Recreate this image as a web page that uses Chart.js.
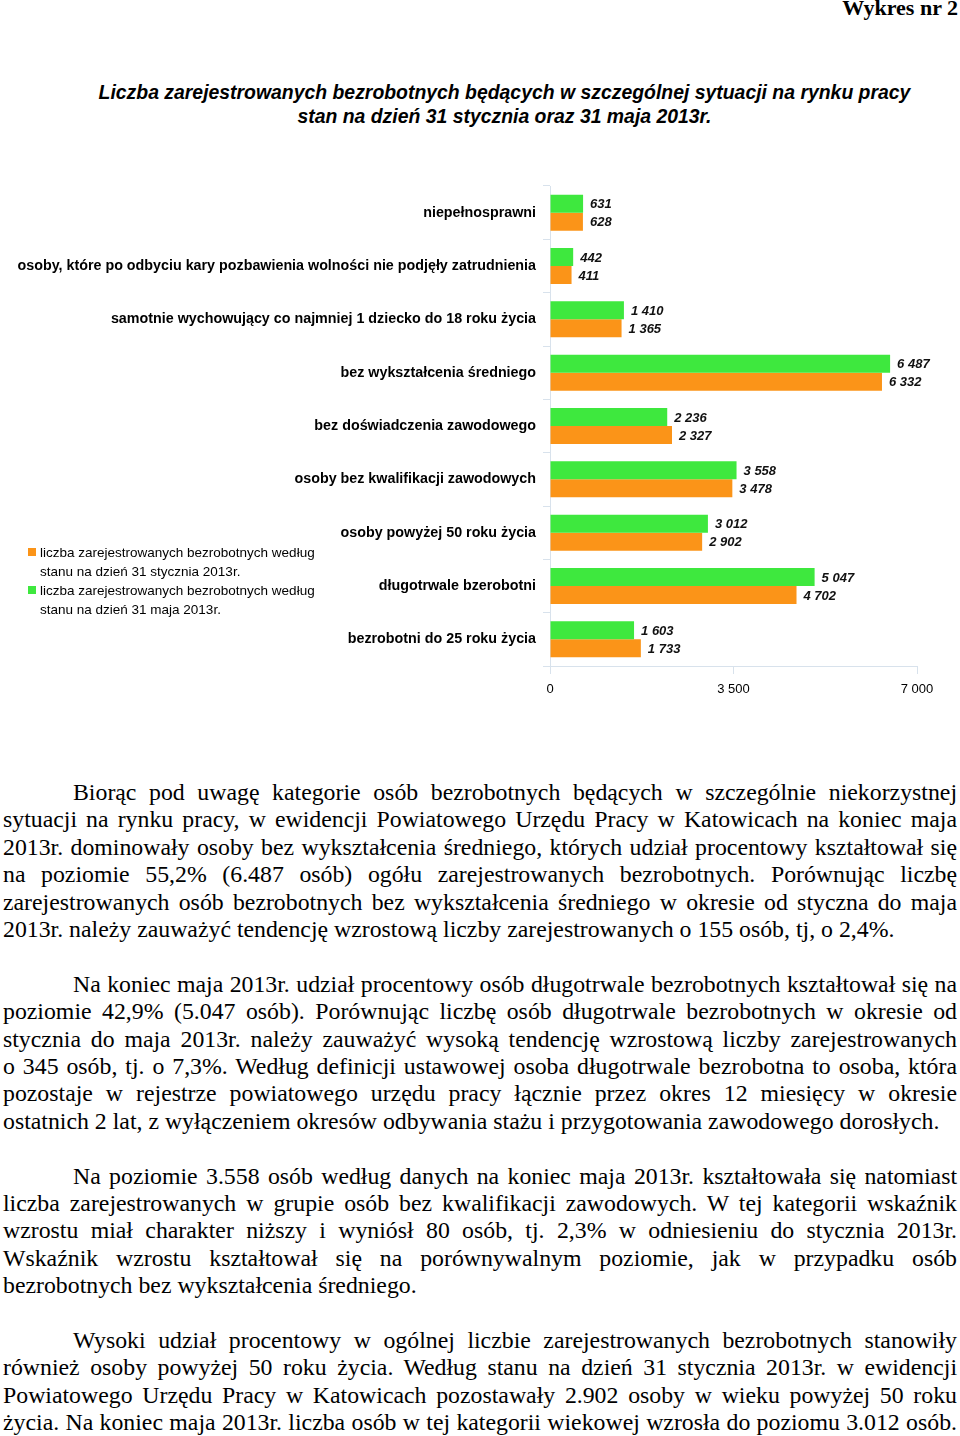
<!DOCTYPE html>
<html lang="pl">
<head>
<meta charset="utf-8">
<title>Wykres nr 2</title>
<script src="https://cdn.jsdelivr.net/npm/chart.js@4.4.1/dist/chart.umd.min.js"></script>
<style>
  body { margin: 0; width: 960px; height: 1436px; position: relative; overflow: hidden; background: #fff; font-family: "Liberation Sans", Arial, sans-serif; }
  #nr { position: absolute; right: 2px; top: -5px; font: bold 22px "Liberation Serif", serif; }
  #title { position: absolute; left: 24px; top: 80px; width: 960px; text-align: center; font: italic bold 20px "Liberation Sans", Arial, sans-serif; line-height: 24px; }
  #title div { display: inline-block; transform: scaleX(0.97); white-space: nowrap; }
  #wrap { position: absolute; left: 0; top: 180px; width: 960px; height: 520px; }
  #legend { position: absolute; left: 28px; top: 543px; width: 320px; font: 13.5px "Liberation Sans", Arial, sans-serif; line-height: 19px; }
  #legend .item { position: relative; padding-left: 12px; }
  #legend .sw { position: absolute; left: 0; top: 5px; width: 8px; height: 8px; }
  #text { position: absolute; left: 3px; top: 779px; width: 954px; font: 23.8px "Liberation Serif", "Times New Roman", serif; line-height: 27.4px; }
  #text .l { text-align: justify; text-align-last: justify; }
  #text .e { text-align: left; text-align-last: left; }
  #text .i { padding-left: 70px; }
  #text .p { margin-bottom: 27.4px; }
</style>
</head>
<body>
<div id="nr">Wykres nr 2</div>
<div id="title">
  <div>Liczba zarejestrowanych bezrobotnych będących w szczególnej sytuacji na rynku pracy</div><br>
  <div>stan na dzień 31 stycznia oraz 31 maja 2013r.</div>
</div>
<div id="wrap"><canvas id="chart"></canvas></div>
<div id="legend"></div>
<div id="text"></div>

<script>
const categories = [
  'niepełnosprawni',
  'osoby, które po odbyciu kary pozbawienia wolności nie podjęły zatrudnienia',
  'samotnie wychowujący co najmniej 1 dziecko do 18 roku życia',
  'bez wykształcenia średniego',
  'bez doświadczenia zawodowego',
  'osoby bez kwalifikacji zawodowych',
  'osoby powyżej 50 roku życia',
  'długotrwale bzerobotni',
  'bezrobotni do 25 roku życia'
];
const mayValues = [631, 442, 1410, 6487, 2236, 3558, 3012, 5047, 1603];
const janValues = [628, 411, 1365, 6332, 2327, 3478, 2902, 4702, 1733];
const xTicks = [0, 3500, 7000];

const janLabel = 'liczba zarejestrowanych bezrobotnych według stanu na dzień 31 stycznia 2013r.';
const mayLabel = 'liczba zarejestrowanych bezrobotnych według stanu na dzień 31 maja 2013r.';
const orange = '#fb9418';
const green = '#3ee83e';

const paragraphs = [
  ['Biorąc pod uwagę kategorie osób bezrobotnych będących w szczególnie niekorzystnej',
   'sytuacji na rynku pracy, w ewidencji Powiatowego Urzędu Pracy w Katowicach na koniec maja',
   '2013r. dominowały osoby bez wykształcenia średniego, których udział procentowy kształtował się',
   'na poziomie 55,2% (6.487 osób) ogółu zarejestrowanych bezrobotnych. Porównując liczbę',
   'zarejestrowanych osób bezrobotnych bez wykształcenia średniego w okresie od styczna do maja',
   '2013r. należy zauważyć tendencję wzrostową liczby zarejestrowanych o 155 osób, tj, o 2,4%.'],
  ['Na koniec maja 2013r. udział procentowy osób długotrwale bezrobotnych kształtował się na',
   'poziomie 42,9% (5.047 osób). Porównując liczbę osób długotrwale bezrobotnych w okresie od',
   'stycznia do maja 2013r. należy zauważyć wysoką tendencję wzrostową liczby zarejestrowanych',
   'o 345 osób, tj. o 7,3%.  Według definicji ustawowej osoba długotrwale bezrobotna to osoba, która',
   'pozostaje w rejestrze powiatowego urzędu pracy łącznie przez okres 12 miesięcy w okresie',
   'ostatnich 2 lat, z wyłączeniem okresów odbywania stażu i przygotowania zawodowego dorosłych.'],
  ['Na poziomie 3.558 osób według danych na koniec maja 2013r. kształtowała się natomiast',
   'liczba zarejestrowanych w grupie osób bez kwalifikacji zawodowych. W tej kategorii wskaźnik',
   'wzrostu miał charakter niższy i wyniósł 80 osób, tj. 2,3% w odniesieniu do stycznia 2013r.',
   'Wskaźnik wzrostu kształtował się na porównywalnym poziomie, jak w przypadku osób',
   'bezrobotnych bez wykształcenia średniego.'],
  ['Wysoki udział procentowy w ogólnej liczbie zarejestrowanych bezrobotnych stanowiły',
   'również osoby powyżej 50 roku życia. Według stanu na dzień 31 stycznia 2013r. w ewidencji',
   'Powiatowego Urzędu Pracy w Katowicach pozostawały 2.902 osoby w wieku powyżej 50 roku',
   'życia. Na koniec maja 2013r. liczba osób w tej kategorii wiekowej wzrosła do poziomu 3.012 osób.']
];

function fmt(v) {
  return String(v).replace(/\B(?=(\d{3})+(?!\d))/g, ' ');
}

// body text, one div per line so the wrapping matches
const textBox = document.getElementById('text');
paragraphs.forEach((lines, p) => {
  const block = document.createElement('div');
  block.className = 'p';
  lines.forEach((line, i) => {
    const d = document.createElement('div');
    const last = i === lines.length - 1 && p !== paragraphs.length - 1;
    d.className = 'l' + (last ? ' e' : '') + (i === 0 ? ' i' : '');
    d.textContent = line;
    block.appendChild(d);
  });
  textBox.appendChild(block);
});

// legend
const legend = document.getElementById('legend');
[[orange, janLabel], [green, mayLabel]].forEach(([c, t]) => {
  const item = document.createElement('div');
  item.className = 'item';
  item.innerHTML = `<span class="sw" style="background:${c}"></span>${t}`;
  legend.appendChild(item);
});

const valueLabels = {
  id: 'valueLabels',
  afterDatasetsDraw(chart) {
    const ctx = chart.ctx;
    ctx.save();
    ctx.font = 'italic bold 13px "Liberation Sans", Arial, sans-serif';
    ctx.fillStyle = '#111';
    ctx.textBaseline = 'middle';
    chart.data.datasets.forEach((ds, i) => {
      chart.getDatasetMeta(i).data.forEach((bar, j) => {
        ctx.fillText(fmt(ds.data[j]), bar.x + 7, bar.y + 1);
      });
    });
    ctx.restore();
  }
};

const axisColor = '#d8e2ec';

new Chart(document.getElementById('chart'), {
  type: 'bar',
  data: {
    labels: categories,
    datasets: [
      { label: mayLabel, data: mayValues, backgroundColor: green },
      { label: janLabel, data: janValues, backgroundColor: orange }
    ]
  },
  options: {
    indexAxis: 'y',
    responsive: true,
    maintainAspectRatio: false,
    animation: false,
    categoryPercentage: 0.675,
    barPercentage: 1,
    layout: { padding: { top: 6, right: 43, left: 0, bottom: 0 } },
    plugins: { legend: { display: false }, tooltip: { enabled: false } },
    scales: {
      x: {
        min: 0,
        max: 7000,
        afterBuildTicks: (scale) => { scale.ticks = xTicks.map(v => ({ value: v })); },
        afterFit: (scale) => { scale.height = 34; },
        grid: { drawOnChartArea: false, drawTicks: true, tickLength: 8, color: axisColor },
        border: { display: true, color: axisColor },
        ticks: {
          padding: 8,
          color: '#000',
          font: { family: '"Liberation Sans", Arial, sans-serif', size: 13 },
          callback: (v) => fmt(v)
        }
      },
      y: {
        afterFit: (scale) => {
          scale.width = 550;
          scale.paddingTop = 0;
          scale.paddingBottom = 0;
        },
        grid: { drawOnChartArea: false, drawTicks: true, tickLength: 7, color: axisColor, offset: true },
        border: { display: true, color: axisColor },
        ticks: {
          padding: 7,
          color: '#000',
          font: { family: '"Liberation Sans", Arial, sans-serif', size: 14.3, weight: 'bold' }
        }
      }
    }
  },
  plugins: [valueLabels]
});
</script>
</body>
</html>
